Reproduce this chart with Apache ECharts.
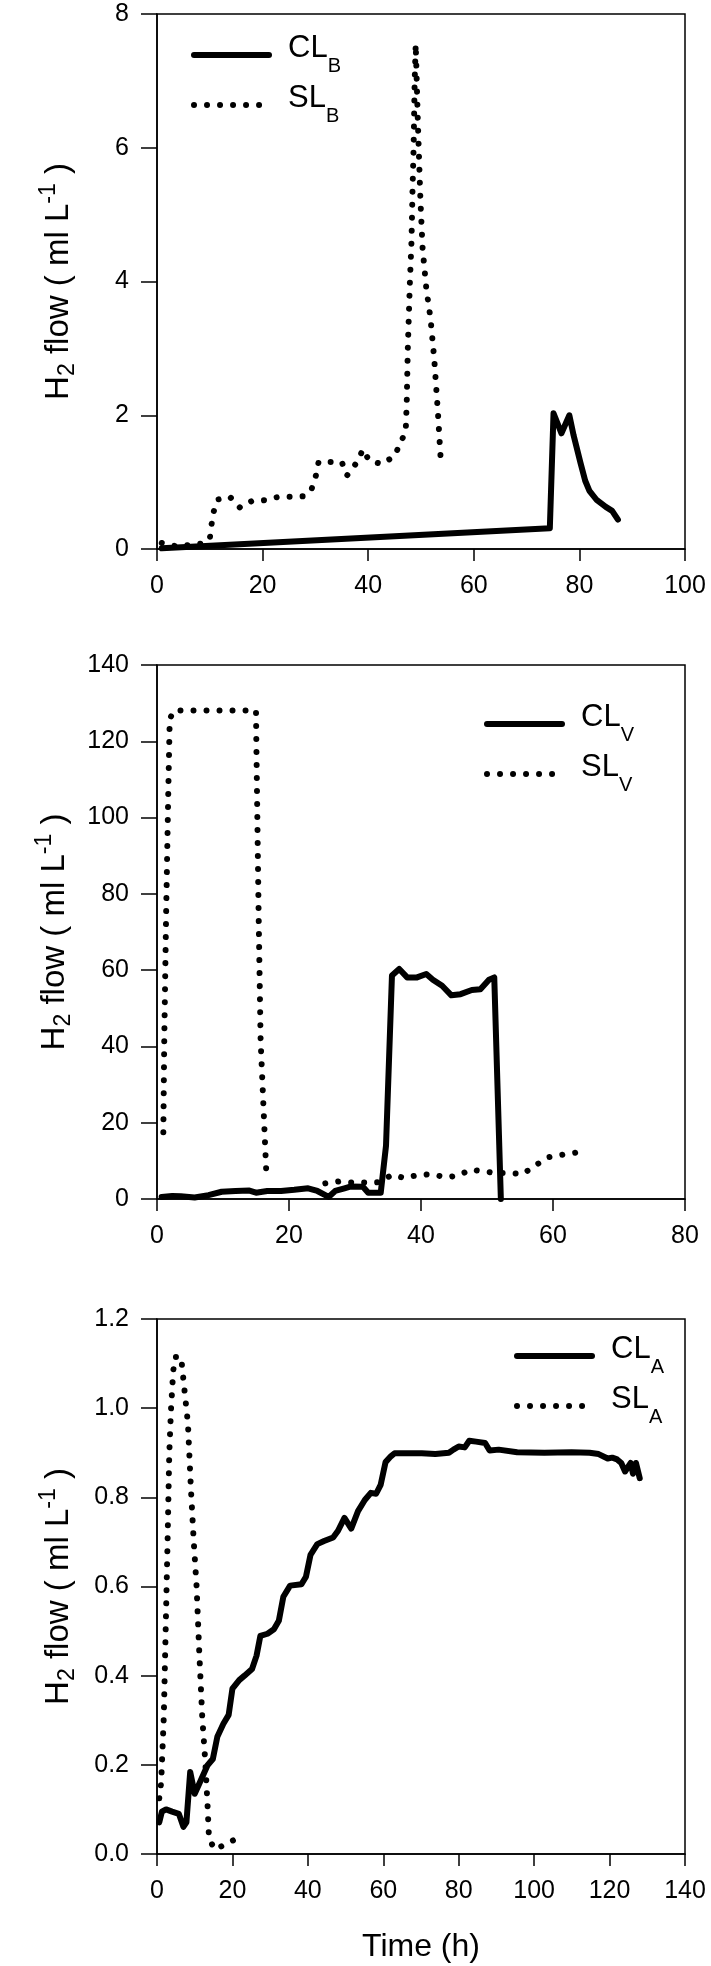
<!DOCTYPE html>
<html><head><meta charset="utf-8">
<script src="https://cdn.jsdelivr.net/npm/echarts@6/dist/echarts.min.js"></script>
<style>html,body{margin:0;padding:0;background:#fff}#c{width:711px;height:1966px}</style>
</head><body><div id="c"></div>
<script>
// ---- Panel 1 (B) ----
const p1XTicks = [0, 20, 40, 60, 80, 100];
const p1YTicks = [0, 2, 4, 6, 8];
const clB_x = [0.9, 74.4, 75.1, 76.6, 78.1, 78.9, 80.2, 81.1, 81.9, 83.2, 85.0, 86.2, 87.3];
const clB_y = [0.01, 0.31, 2.03, 1.73, 2.0, 1.70, 1.29, 1.02, 0.87, 0.74, 0.63, 0.57, 0.44];
const slB_x = [0.9, 3.7, 6.1, 8.4, 10.0, 10.3, 10.7, 11.5, 13.8, 15.7, 18.0, 20.5, 23.0, 25.6, 28.0, 29.3, 30.1, 30.6, 31.7, 33.4, 35.0, 36.0, 37.9, 39.0, 40.2, 42.6, 45.0, 46.1, 47.1, 47.3, 47.5, 47.9, 48.2, 48.4, 48.6, 48.8, 49.0, 49.4, 49.9, 50.3, 51.0, 51.8, 52.5, 53.2, 53.8];
const slB_y = [0.09, 0.04, 0.06, 0.08, 0.15, 0.35, 0.55, 0.74, 0.78, 0.62, 0.72, 0.73, 0.78, 0.78, 0.79, 0.9, 1.1, 1.3, 1.3, 1.3, 1.3, 1.1, 1.3, 1.49, 1.32, 1.27, 1.39, 1.59, 1.75, 2.2, 3.0, 4.0, 4.6, 5.4, 6.0, 7.0, 7.55, 6.4, 5.2, 4.5, 3.9, 3.45, 2.85, 2.05, 1.25];

// ---- Panel 2 (V) ----
const p2XTicks = [0, 20, 40, 60, 80];
const p2YTicks = [0, 20, 40, 60, 80, 100, 120, 140];
const clV_x = [0.7, 2.3, 3.6, 5.7, 7.8, 9.8, 11.9, 14.0, 15.0, 16.7, 18.8, 20.8, 22.9, 24.3, 26.0, 27.0, 28.4, 29.4, 31.2, 32.0, 33.9, 34.7, 35.6, 36.7, 37.9, 39.4, 40.8, 41.8, 43.2, 44.6, 46.0, 47.7, 49.0, 50.3, 51.1, 52.1];
const clV_y = [0.55, 0.8, 0.7, 0.4, 1.0, 1.9, 2.1, 2.2, 1.65, 2.1, 2.1, 2.4, 2.8, 2.1, 0.55, 2.1, 2.8, 3.3, 3.2, 1.65, 1.65, 14.0, 58.6, 60.3, 58.1, 58.1, 59.0, 57.5, 55.9, 53.4, 53.7, 54.8, 55.0, 57.5, 58.1, 0.0];
const slV_x = [0.96, 1.1, 1.38, 1.72, 1.93, 2.6, 15.0, 15.06, 15.4, 15.7, 16.6, 21.0, 25.5, 27.6, 29.8, 31.7, 33.6, 35.6, 37.6, 39.5, 41.6, 43.7, 45.6, 47.5, 49.6, 51.6, 53.5, 55.4, 57.3, 59.4, 61.4, 63.3, 65.3];
const slV_y = [17.5, 41.6, 74.6, 107.7, 125.9, 128.1, 128.1, 118.7, 74.6, 41.6, 5.4, null, 4.1, 4.6, 4.3, 4.3, 4.4, 6.3, 5.5, 6.3, 6.5, 5.7, 6.1, 7.7, 7.2, 6.8, 6.8, 6.5, 8.8, 11.0, 11.6, 12.1, 12.6];

// ---- Panel 3 (A) ----
const p3XTicks = [0, 20, 40, 60, 80, 100, 120, 140];
const p3YTicks = [0.0, 0.2, 0.4, 0.6, 0.8, 1.0, 1.2];
const clA_x = [0.6, 1.3, 2.4, 4.0, 5.8, 7.0, 7.8, 8.8, 10.0, 11.8, 13.4, 14.8, 16.0, 17.6, 19.0, 20.0, 21.8, 23.2, 25.2, 26.4, 27.4, 29.3, 31.0, 32.3, 33.5, 35.3, 38.3, 39.5, 40.7, 42.5, 44.3, 46.7, 48.0, 49.7, 51.5, 53.3, 55.1, 56.7, 58.1, 59.3, 60.6, 62.0, 63.0, 66.6, 70.2, 73.8, 77.4, 78.6, 80.0, 81.6, 82.8, 84.6, 87.0, 88.2, 90.6, 95.5, 102.7, 109.9, 114.7, 117.1, 119.5, 120.7, 122.0, 123.1, 124.1, 125.6, 126.2, 127.0, 128.0];
const clA_y = [0.071, 0.095, 0.10, 0.095, 0.09, 0.061, 0.071, 0.184, 0.135, 0.169, 0.199, 0.213, 0.263, 0.292, 0.312, 0.371, 0.39, 0.40, 0.415, 0.445, 0.489, 0.494, 0.504, 0.523, 0.577, 0.602, 0.605, 0.622, 0.671, 0.695, 0.702, 0.71, 0.725, 0.754, 0.73, 0.769, 0.794, 0.81, 0.808, 0.828, 0.879, 0.892, 0.899, 0.899, 0.899, 0.897, 0.9, 0.907, 0.914, 0.912, 0.927, 0.925, 0.922, 0.905, 0.907, 0.901, 0.9, 0.901, 0.9, 0.897, 0.887, 0.889, 0.885, 0.877, 0.858, 0.877, 0.853, 0.877, 0.843];
const slA_x = [0.6, 1.1, 1.8, 2.3, 2.8, 3.25, 3.7, 4.3, 4.9, 6.4, 7.0, 8.2, 9.0, 9.75, 10.5, 11.2, 12.0, 12.8, 13.4, 13.8, 15.4, 18.8, 22.3];
const slA_y = [0.125, 0.16, 0.307, 0.504, 0.70, 0.897, 0.995, 1.084, 1.115, 1.115, 1.064, 0.966, 0.818, 0.70, 0.60, 0.454, 0.307, 0.208, 0.11, 0.033, 0.01, 0.025, 0.039];

const FF = '"Liberation Sans", Arial, Helvetica, sans-serif';
const pairs = (xs, ys) => xs.map((x, i) => [x, ys[i] == null ? '-' : ys[i]]);

const axisLineStyle = { color: '#000', width: 1.5 };
function xAx(gi, ticks, name) {
  return {
    type: 'value', gridIndex: gi, min: ticks[0], max: ticks[ticks.length - 1], interval: ticks[1] - ticks[0],
    axisLine: { show: true, onZero: false, lineStyle: axisLineStyle },
    axisTick: { show: true, length: 12, lineStyle: axisLineStyle },
    axisLabel: { color: '#000', fontSize: 25, fontFamily: FF, margin: 25 },
    splitLine: { show: false },
    name: name || '', nameLocation: 'middle', nameGap: 77,
    nameTextStyle: { color: '#000', fontSize: 32, fontFamily: FF }
  };
}
function yAx(gi, ticks, dec) {
  return {
    type: 'value', gridIndex: gi, min: ticks[0], max: ticks[ticks.length - 1], interval: +(ticks[1] - ticks[0]).toFixed(4),
    axisLine: { show: true, onZero: false, lineStyle: axisLineStyle },
    axisTick: { show: true, length: 16, lineStyle: axisLineStyle },
    axisLabel: { color: '#000', fontSize: 25, fontFamily: FF, margin: 28, formatter: v => (+v).toFixed(dec) },
    splitLine: { show: false },
    name: '{h|H}{s|2}{h| flow ( ml L}{p|-1}{h| )}',
    nameLocation: 'middle', nameRotate: 90, nameGap: 76,
    nameTextStyle: {
      color: '#000', fontFamily: FF,
      rich: {
        h: { fontSize: 33, fontFamily: FF, color: '#000', lineHeight: 44 },
        s: { fontSize: 23, fontFamily: FF, color: '#000', lineHeight: 44, padding: [18, 0, 0, 0] },
        p: { fontSize: 23, fontFamily: FF, color: '#000', lineHeight: 44, padding: [0, 0, 20, 0] }
      }
    }
  };
}
const solid = { color: '#000', width: 6, type: 'solid', cap: 'round', join: 'round' };
const dotted = { color: '#000', width: 6, type: [0.01, 13], cap: 'round', join: 'round' };
function ser(name, gi, xs, ys, ls) {
  return { name, type: 'line', xAxisIndex: gi, yAxisIndex: gi, data: pairs(xs, ys), symbol: 'none',
    showSymbol: false, lineStyle: ls, itemStyle: { color: '#000' }, animation: false, connectNulls: false };
}
const legRich = {
  a: { fontSize: 31, fontFamily: FF, color: '#000', lineHeight: 50, padding: [0, 0, 13, 14] },
  b: { fontSize: 20, fontFamily: FF, color: '#000', lineHeight: 50, padding: [23, 0, 0, 0] }
};
function leg(names, left, top) {
  return {
    data: names, left, top, orient: 'vertical', itemWidth: 75, itemHeight: 14, itemGap: 6, padding: 0,
    itemStyle: { opacity: 0 },
    lineStyle: { width: 6, cap: 'round', color: '#000' },
    formatter: n => { const p = n.split('_'); return '{a|' + p[0] + '}{b|' + p[1] + '}'; },
    textStyle: { rich: legRich }, selectedMode: false
  };
}

const chart = echarts.init(document.getElementById('c'), null, { renderer: 'canvas' });
chart.setOption({
  backgroundColor: '#fff',
  animation: false,
  grid: [
    { left: 157, top: 14, width: 528, height: 535, show: true, borderColor: '#000', borderWidth: 1.5, backgroundColor: 'transparent' },
    { left: 157, top: 665, width: 528, height: 534, show: true, borderColor: '#000', borderWidth: 1.5, backgroundColor: 'transparent' },
    { left: 157, top: 1319, width: 528, height: 535, show: true, borderColor: '#000', borderWidth: 1.5, backgroundColor: 'transparent' }
  ],
  xAxis: [xAx(0, p1XTicks), xAx(1, p2XTicks), xAx(2, p3XTicks, 'Time (h)')],
  yAxis: [yAx(0, p1YTicks, 0), yAx(1, p2YTicks, 0), yAx(2, p3YTicks, 1)],
  legend: [
    leg(['CL_B', 'SL_B'], 191, 33),
    leg(['CL_V', 'SL_V'], 484, 702),
    leg(['CL_A', 'SL_A'], 514, 1334)
  ],
  series: [
    ser('SL_B', 0, slB_x, slB_y, dotted),
    ser('CL_B', 0, clB_x, clB_y, solid),
    ser('SL_V', 1, slV_x, slV_y, dotted),
    ser('CL_V', 1, clV_x, clV_y, solid),
    ser('SL_A', 2, slA_x, slA_y, dotted),
    ser('CL_A', 2, clA_x, clA_y, solid)
  ]
});
</script></body></html>
